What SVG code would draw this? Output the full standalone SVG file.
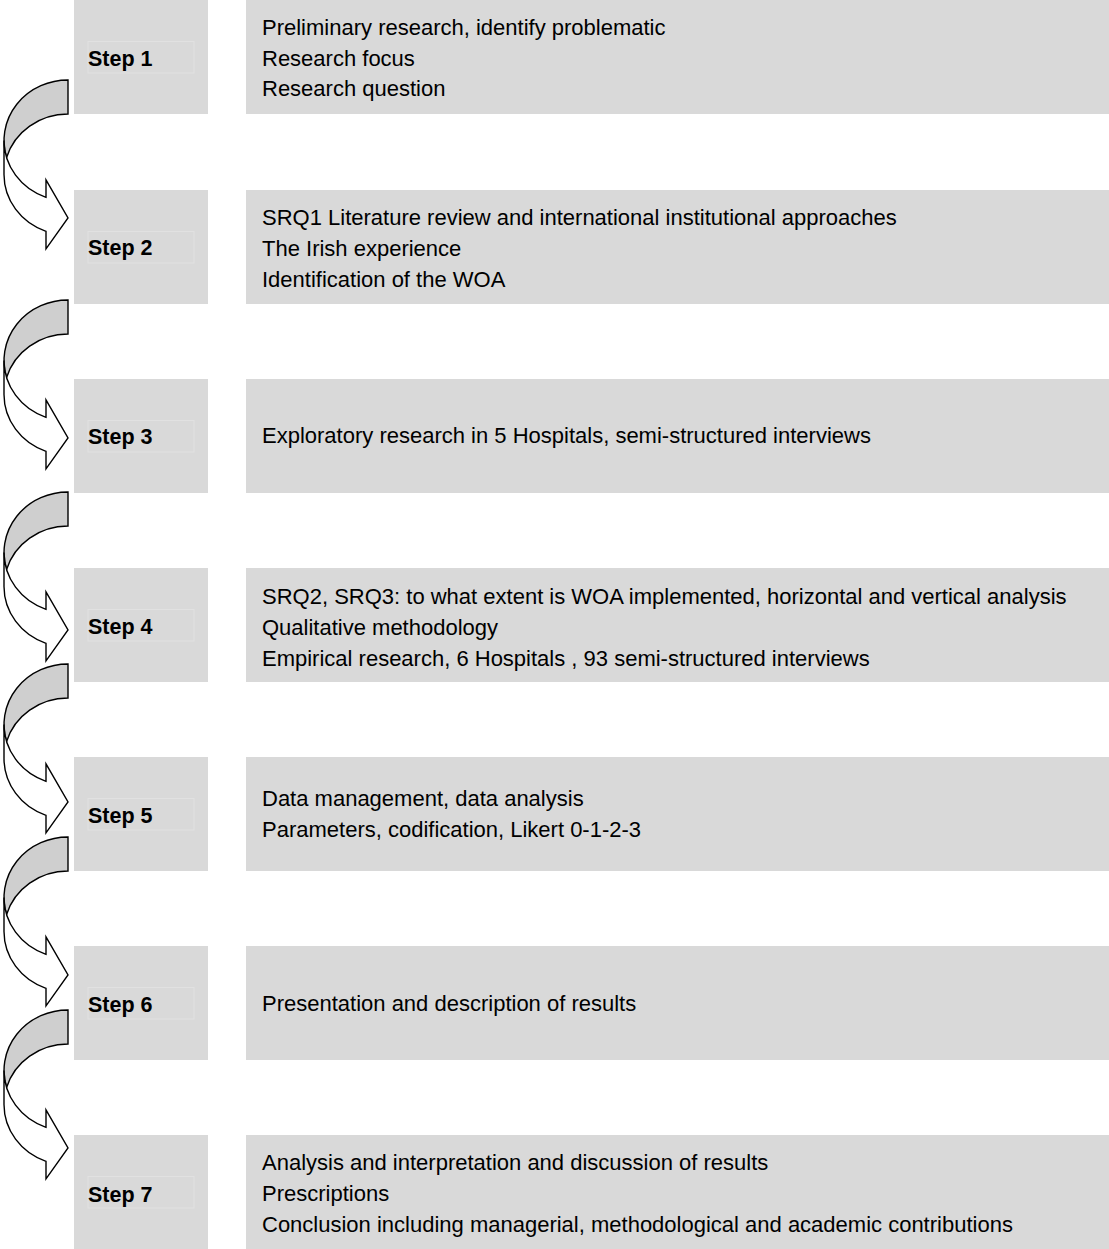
<svg xmlns="http://www.w3.org/2000/svg" xmlns:xlink="http://www.w3.org/1999/xlink" width="1109" height="1249" viewBox="0 0 1109 1249">
  <style>
    .box { fill: #d9d9d9; }
    .frame { fill: none; stroke: #e1e1e1; stroke-width: 1; }
    .label { font-family: "Liberation Sans", Arial, sans-serif; font-size: 21.5px; font-weight: bold; fill: #000; }
    .desc { font-family: "Liberation Sans", Arial, sans-serif; font-size: 22px; fill: #000; }
    .arrow-back { fill: #cfcfcf; stroke: #000; stroke-width: 1.4; stroke-linejoin: miter; }
    .arrow-front { fill: #fff; stroke: #000; stroke-width: 1.4; stroke-linejoin: miter; }
  </style>
  <defs>
    <!-- curved arrow: shaded back band + white body with head pointing right -->
    <g id="curved-arrow">
      <path class="arrow-back" d="M64,34 A64,60.5 0 0 0 2.6,77.5 A64,60.5 0 0 1 64,0 Z"/>
      <path class="arrow-front" d="M0,60.5 A64,60.5 0 0 0 42,117.3 L42,99.8 L64,138 L42,168.8 L42,151.3 A64,60.5 0 0 1 0,94.5 Z"/>
    </g>
  </defs>

  <g id="step1">
    <rect class="box" x="74" y="0" width="134" height="114"/>
    <rect class="frame" x="88" y="41.5" width="106" height="31.5"/>
    <text class="label" x="88" y="66">Step 1</text>
    <rect class="box" x="246" y="0" width="863" height="114"/>
    <text class="desc" x="262" y="35">Preliminary research, identify problematic</text>
    <text class="desc" x="262" y="66">Research focus</text>
    <text class="desc" x="262" y="96">Research question</text>
  </g>

  <g id="step2">
    <rect class="box" x="74" y="190" width="134" height="114"/>
    <rect class="frame" x="88" y="231.5" width="106" height="31.5"/>
    <text class="label" x="88" y="255">Step 2</text>
    <rect class="box" x="246" y="190" width="863" height="114"/>
    <text class="desc" x="262" y="225">SRQ1 Literature review and international institutional approaches</text>
    <text class="desc" x="262" y="256">The Irish experience</text>
    <text class="desc" x="262" y="287">Identification of the WOA</text>
  </g>

  <g id="step3">
    <rect class="box" x="74" y="379" width="134" height="114"/>
    <rect class="frame" x="88" y="420.5" width="106" height="31.5"/>
    <text class="label" x="88" y="444">Step 3</text>
    <rect class="box" x="246" y="379" width="863" height="114"/>
    <text class="desc" x="262" y="443">Exploratory research in 5 Hospitals, semi-structured interviews</text>
  </g>

  <g id="step4">
    <rect class="box" x="74" y="568" width="134" height="114"/>
    <rect class="frame" x="88" y="609.5" width="106" height="31.5"/>
    <text class="label" x="88" y="634">Step 4</text>
    <rect class="box" x="246" y="568" width="863" height="114"/>
    <text class="desc" x="262" y="604">SRQ2, SRQ3: to what extent is WOA implemented, horizontal and vertical analysis</text>
    <text class="desc" x="262" y="635">Qualitative methodology</text>
    <text class="desc" x="262" y="666">Empirical research, 6 Hospitals , 93 semi-structured interviews</text>
  </g>

  <g id="step5">
    <rect class="box" x="74" y="757" width="134" height="114"/>
    <rect class="frame" x="88" y="798.5" width="106" height="31.5"/>
    <text class="label" x="88" y="823">Step 5</text>
    <rect class="box" x="246" y="757" width="863" height="114"/>
    <text class="desc" x="262" y="806">Data management, data analysis</text>
    <text class="desc" x="262" y="837">Parameters, codification, Likert 0-1-2-3</text>
  </g>

  <g id="step6">
    <rect class="box" x="74" y="946" width="134" height="114"/>
    <rect class="frame" x="88" y="987.5" width="106" height="31.5"/>
    <text class="label" x="88" y="1012">Step 6</text>
    <rect class="box" x="246" y="946" width="863" height="114"/>
    <text class="desc" x="262" y="1011">Presentation and description of results</text>
  </g>

  <g id="step7">
    <rect class="box" x="74" y="1135" width="134" height="114"/>
    <rect class="frame" x="88" y="1176.5" width="106" height="31.5"/>
    <text class="label" x="88" y="1202">Step 7</text>
    <rect class="box" x="246" y="1135" width="863" height="114"/>
    <text class="desc" x="262" y="1170">Analysis and interpretation and discussion of results</text>
    <text class="desc" x="262" y="1201">Prescriptions</text>
    <text class="desc" x="262" y="1232">Conclusion including managerial, methodological and academic contributions</text>
  </g>

  <g id="connectors">
    <use xlink:href="#curved-arrow" href="#curved-arrow" transform="translate(4,80)"/>
    <use xlink:href="#curved-arrow" href="#curved-arrow" transform="translate(4,300)"/>
    <use xlink:href="#curved-arrow" href="#curved-arrow" transform="translate(4,492)"/>
    <use xlink:href="#curved-arrow" href="#curved-arrow" transform="translate(4,664)"/>
    <use xlink:href="#curved-arrow" href="#curved-arrow" transform="translate(4,837)"/>
    <use xlink:href="#curved-arrow" href="#curved-arrow" transform="translate(4,1010)"/>
  </g>
</svg>
